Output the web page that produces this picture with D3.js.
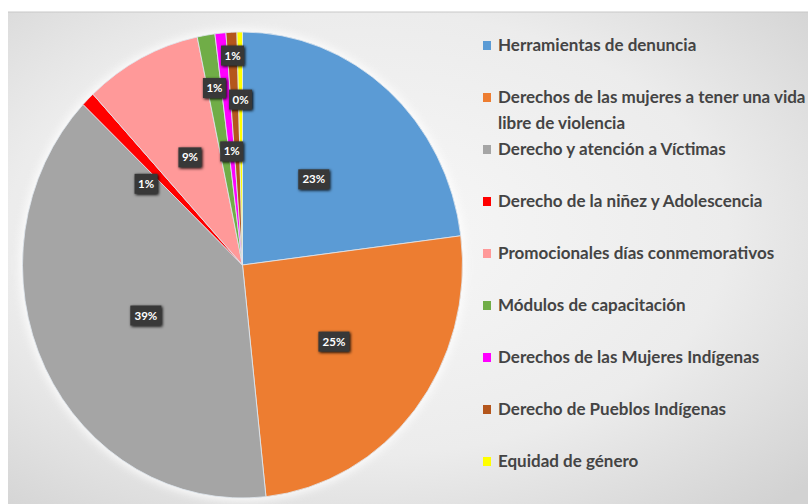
<!DOCTYPE html>
<html>
<head>
<meta charset="utf-8">
<script src="https://cdn.jsdelivr.net/npm/d3@7"></script>
<style>
  body { margin: 0; background: #fff; }
  svg { display: block; font-family: Lato, "Open Sans", sans-serif; }
</style>
</head>
<body>
<div id="chart"></div>
<script>
var categories = [
  "Herramientas de denuncia",
  "Derechos de las mujeres a tener una vida libre de violencia",
  "Derecho y atención a Víctimas",
  "Derecho de la niñez y Adolescencia",
  "Promocionales días conmemorativos",
  "Módulos de capacitación",
  "Derechos de las Mujeres Indígenas",
  "Derecho de Pueblos Indígenas",
  "Equidad de género"
];
// percent shares
var values = [23.0, 25.3, 38.8, 1.0, 8.6, 1.3, 0.8, 0.8, 0.4];
var colors = ["#5b9bd5", "#ed7d31", "#a5a5a5", "#ff0000", "#ff9999", "#70ad47", "#ff00ff", "#b4561c", "#ffff00"];

var width = 808, height = 504;
var cx = 242.5, cy = 265, rx = 220, ry = 233;

var svg = d3.select("#chart").append("svg")
  .attr("width", width)
  .attr("height", height);

var defs = svg.append("defs");
var grad = defs.append("radialGradient")
  .attr("id", "bg")
  .attr("cx", "45%").attr("cy", "45%").attr("r", "75%");
grad.append("stop").attr("offset", "0%").attr("stop-color", "#f7f7f7");
grad.append("stop").attr("offset", "60%").attr("stop-color", "#ececec");
grad.append("stop").attr("offset", "100%").attr("stop-color", "#d2d2d2");

var shadow = defs.append("filter").attr("id", "shadow")
  .attr("x", "-30%").attr("y", "-30%").attr("width", "160%").attr("height", "160%");
shadow.append("feGaussianBlur").attr("in", "SourceAlpha").attr("stdDeviation", 1.5);
shadow.append("feOffset").attr("dx", 1).attr("dy", 1).attr("result", "b");
var merge = shadow.append("feMerge");
merge.append("feMergeNode").attr("in", "b");
merge.append("feMergeNode").attr("in", "SourceGraphic");

var glow = defs.append("filter").attr("id", "glow")
  .attr("x", "-10%").attr("y", "-10%").attr("width", "120%").attr("height", "120%");
glow.append("feGaussianBlur").attr("stdDeviation", 4);

// background panel
svg.append("rect")
  .attr("x", 8).attr("y", 12)
  .attr("width", width - 8).attr("height", height - 12)
  .attr("fill", "url(#bg)");
svg.append("line")
  .attr("x1", 8).attr("x2", width).attr("y1", 12).attr("y2", 12)
  .attr("stroke", "#c8c8c8");

var pie = d3.pie().sort(null).value(d => d.value);
var data = pie(categories.map((c, i) => ({ name: c, value: values[i], color: colors[i] })));
var arc = d3.arc().innerRadius(0).outerRadius(rx);

// soft halo behind pie
svg.append("ellipse")
  .attr("cx", cx).attr("cy", cy).attr("rx", rx + 3).attr("ry", ry + 3)
  .attr("fill", "#ffffff").attr("opacity", 0.8)
  .attr("filter", "url(#glow)");

var g = svg.append("g")
  .attr("transform", "translate(" + cx + "," + cy + ") scale(1," + (ry / rx) + ")");

g.selectAll("path")
  .data(data)
  .enter()
  .append("path")
  .attr("d", arc)
  .attr("fill", d => d.data.color)
  .attr("stroke", "#dfe6ee")
  .attr("stroke-width", 0.8);

// label placement (fraction of radius) like the manual Excel layout
var labelR = [0.49, 0.53, 0.49, 0.56, 0.52, 0.77, 0.49, 0.9, 0.71];
var labelShift = [0, 0, 0, -0.12, 0, 0, 0, 0, 0];

var labels = svg.append("g").attr("transform", "translate(" + cx + "," + cy + ")");
var lab = labels.selectAll("g")
  .data(data)
  .enter()
  .append("g")
  .attr("transform", function(d, i) {
    var a = (d.startAngle + d.endAngle) / 2 + labelShift[i];
    var x = Math.sin(a) * rx * labelR[i];
    var y = -Math.cos(a) * ry * labelR[i];
    return "translate(" + x + "," + y + ")";
  });

lab.each(function(d) {
  var t = Math.round(d.data.value) + "%";
  var w = t.length > 2 ? 31 : 23;
  var sel = d3.select(this);
  sel.append("rect")
    .attr("x", -w / 2).attr("y", -10)
    .attr("width", w).attr("height", 20)
    .attr("fill", "#383838")
    .attr("filter", "url(#shadow)");
  sel.append("text")
    .attr("text-anchor", "middle")
    .attr("dy", "0.35em")
    .attr("fill", "#fff")
    .attr("font-size", 11.5)
    .attr("font-weight", 700)
    .text(t);
});

// legend
var ly = d3.scalePoint().domain(d3.range(9)).range([45, 461]);
var legendLines = [
  ["Herramientas de denuncia"],
  ["Derechos de las mujeres a tener una vida", "libre de violencia"],
  ["Derecho y atención a Víctimas"],
  ["Derecho de la niñez y Adolescencia"],
  ["Promocionales días conmemorativos"],
  ["Módulos de capacitación"],
  ["Derechos de las Mujeres Indígenas"],
  ["Derecho de Pueblos Indígenas"],
  ["Equidad de género"]
];

var leg = svg.append("g").selectAll("g")
  .data(data)
  .enter()
  .append("g")
  .attr("transform", (d, i) => "translate(483," + ly(i) + ")");

leg.append("rect")
  .attr("x", 0).attr("y", -4)
  .attr("width", 8).attr("height", 9)
  .attr("fill", d => d.data.color);

leg.append("text")
  .attr("fill", "#444")
  .attr("font-size", 17)
  .attr("font-weight", 700)
  .selectAll("tspan")
  .data((d, i) => legendLines[i])
  .enter()
  .append("tspan")
  .attr("x", 15)
  .attr("y", (d, j) => j * 26)
  .attr("dy", "0.35em")
  .text(d => d);
</script>
</body>
</html>
